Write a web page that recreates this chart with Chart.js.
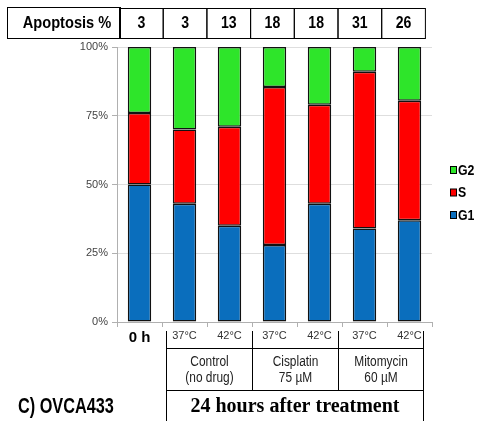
<!DOCTYPE html>
<html>
<head>
<meta charset="utf-8">
<script src="https://cdn.jsdelivr.net/npm/chart.js@4"></script>
<style>
  html, body { margin: 0; padding: 0; background: #fff; }
  #wrap { width: 477px; height: 421px; }
</style>
</head>
<body>
<div id="wrap"><canvas id="chart"></canvas></div>
<script>
const categories = ['0 h', '37°C', '42°C', '37°C', '42°C', '37°C', '42°C']
const g1 = [50, 43, 35, 28, 43, 34, 37]
const sPhase = [26, 27, 36, 57.5, 36, 57, 43.5]
const g2 = [24, 30, 29, 14.5, 21, 9, 19.5]
const apoptosis = [3, 3, 13, 18, 18, 31, 26]
const groups = [['Control', '(no drug)'], ['Cisplatin', '75 µM'], ['Mitomycin', '60 µM']]
const yTicks = [0, 25, 50, 75, 100]

const SANS = '"Liberation Sans", Arial, sans-serif'

// no narrow face installed, so squeeze the regular one
function narrowText(ctx, text, x, y, squeeze) {
	ctx.save()
	ctx.translate(x, y)
	ctx.scale(squeeze, 1)
	ctx.fillText(text, 0, 0)
	ctx.restore()
}

const tablesPlugin = {
	id: 'tables',
	afterDraw(chart) {
		const ctx = chart.ctx
		ctx.save()
		ctx.strokeStyle = '#000'
		ctx.lineWidth = 1
		ctx.fillStyle = '#000'
		ctx.textAlign = 'center'
		ctx.textBaseline = 'middle'

		// apoptosis row
		ctx.strokeRect(7.5, 7.5, 113, 31)
		ctx.font = 'bold 17px ' + SANS
		narrowText(ctx, 'Apoptosis %', 67, 23, 0.86)
		const colL = 119.5
		const colW = 43.7
		ctx.font = 'bold 16px ' + SANS
		apoptosis.forEach((v, i) => {
			const x = colL + i * colW
			ctx.strokeRect(x, 8.5, colW, 30)
			narrowText(ctx, String(v), x + colW / 2, 24, 0.88)
		})

		// group table under the axis
		const edges = [166.5, 252.5, 338.5, 423.5]
		ctx.beginPath()
		ctx.moveTo(edges[0], 331); ctx.lineTo(edges[0], 421)
		ctx.moveTo(edges[3], 331); ctx.lineTo(edges[3], 421)
		ctx.moveTo(edges[1], 331); ctx.lineTo(edges[1], 390)
		ctx.moveTo(edges[2], 331); ctx.lineTo(edges[2], 390)
		ctx.moveTo(edges[0], 348.5); ctx.lineTo(edges[3], 348.5)
		ctx.moveTo(edges[0], 390.5); ctx.lineTo(edges[3], 390.5)
		ctx.stroke()

		ctx.fillStyle = '#222'
		ctx.font = '14px ' + SANS
		groups.forEach((g, i) => {
			const cx = (edges[i] + edges[i + 1]) / 2
			narrowText(ctx, g[0], cx, 362, 0.85)
			narrowText(ctx, g[1], cx, 378, 0.85)
		})

		ctx.fillStyle = '#000'
		ctx.font = 'bold 20px "Liberation Serif", "DejaVu Serif", serif'
		ctx.fillText('24 hours after treatment', (edges[0] + edges[3]) / 2, 407)

		ctx.textAlign = 'left'
		ctx.font = 'bold 22px ' + SANS
		narrowText(ctx, 'C) OVCA433', 18, 407, 0.74)

		// legend, top to bottom G2, S, G1
		const items = chart.data.datasets.slice().reverse()
		ctx.font = 'bold 15px ' + SANS
		items.forEach((ds, i) => {
			const y = 170 + i * 22.5
			ctx.fillStyle = ds.backgroundColor
			ctx.fillRect(450.5, y - 3.5, 6, 7)
			ctx.strokeStyle = '#000'
			ctx.strokeRect(450.5, y - 3.5, 6, 7)
			ctx.fillStyle = '#000'
			narrowText(ctx, ds.label, 458, y + 0.5, 0.82)
		})
		ctx.restore()
	},
}

new Chart(document.getElementById('chart'), {
	type: 'bar',
	data: {
		labels: categories,
		datasets: [
			{ label: 'G1', data: g1, backgroundColor: '#0a6ebd' },
			{ label: 'S', data: sPhase, backgroundColor: '#ff0000' },
			{ label: 'G2', data: g2, backgroundColor: '#2ee52a' },
		].map((d) => ({ ...d, borderColor: '#111', borderWidth: 1.5, borderSkipped: false })),
	},
	options: {
		responsive: true,
		maintainAspectRatio: false,
		animation: false,
		events: [],
		layout: { padding: { top: 47, right: 45, left: 0, bottom: 0 } },
		datasets: { bar: { categoryPercentage: 1, barPercentage: 0.52 } },
		plugins: { legend: { display: false }, tooltip: { enabled: false } },
		scales: {
			x: {
				stacked: true,
				afterFit: (s) => { s.height = 99 },
				border: { color: '#b0b0b0' },
				grid: { offset: true, drawOnChartArea: false, tickLength: 5, color: '#b0b0b0' },
				ticks: {
					padding: 2,
					maxRotation: 0,
					color: (c) => (c.index === 0 ? '#000' : '#333'),
					font: (c) => (c.index === 0
						? { size: 15, weight: 'bold', family: SANS }
						: { size: 11, family: SANS }),
				},
			},
			y: {
				stacked: true,
				min: 0,
				max: 100,
				afterFit: (s) => { s.width = 117 },
				afterBuildTicks: (s) => { s.ticks = yTicks.map((v) => ({ value: v })) },
				border: { color: '#b0b0b0' },
				grid: { color: '#dedede', tickLength: 5, tickColor: '#b0b0b0' },
				ticks: {
					padding: 4,
					color: '#444',
					font: { size: 11, family: SANS },
					callback: (v) => v + '%',
				},
			},
		},
	},
	plugins: [tablesPlugin],
})
</script>
</body>
</html>
